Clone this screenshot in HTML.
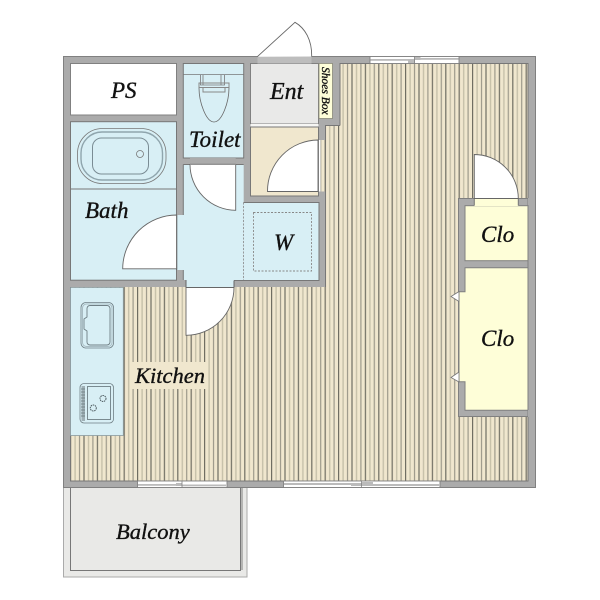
<!DOCTYPE html>
<html><head><meta charset="utf-8"><style>
html,body{margin:0;padding:0;background:#fff}
svg{display:block}
text{font-family:"Liberation Serif",serif;font-style:italic;fill:#111;stroke:#111;stroke-width:.35}
</style></head><body>
<svg width="600" height="600" viewBox="0 0 600 600" xmlns="http://www.w3.org/2000/svg">
<defs><pattern id="st" x="70" y="0" width="13.4" height="10" patternUnits="userSpaceOnUse">
<rect width="13.4" height="10" fill="#f0e7ce"/>
<rect x="0" width="1.2" height="10" fill="#6f6d62"/>
<rect x="4.4" width="1.4" height="10" fill="#c6c0a9"/>
<rect x="8.9" width="1.2" height="10" fill="#9c998a"/>
</pattern></defs>

<!-- balcony -->
<rect x="63.5" y="487.5" width="183.500" height="89.500" fill="#e9e9e7" stroke="#aaa" stroke-width="1"/>
<rect x="70.500" y="487.500" width="170" height="83" fill="none" stroke="#777" stroke-width="1"/>
<rect x="241" y="487" width="2" height="83" fill="#b5b5b3"/>

<!-- walls base + floor -->
<rect x="63.5" y="56.5" width="472" height="431" fill="#ababab" stroke="#808080" stroke-width="1"/>
<rect x="70.5" y="63.5" width="457.5" height="417.5" fill="url(#st)" stroke="#777" stroke-width="1"/>

<!-- wall block upper left -->
<rect x="70" y="63" width="269.5" height="224" fill="#ababab"/>
<rect x="325.7" y="125.5" width="14" height="162" fill="url(#st)"/>
<rect x="339.5" y="63.5" width="1" height="62" fill="#777"/>
<rect x="325" y="125" width="15" height="1" fill="#777"/>
<rect x="325" y="125" width="1" height="162" fill="#777"/>
<rect x="186" y="280" width="48" height="7.5" fill="#d8eff5"/>

<!-- PS -->
<rect x="70.5" y="63.5" width="106" height="51.5" fill="#fff" stroke="#808080"/>
<!-- Bath -->
<rect x="70.5" y="121.7" width="106" height="158.5" fill="#d8eff5" stroke="#777"/>
<line x1="70.5" y1="189" x2="176.5" y2="189" stroke="#777"/>
<rect x="77.5" y="128.5" width="88.5" height="55" rx="25" fill="none" stroke="#777" stroke-width=".8"/>
<rect x="81" y="132" width="81.5" height="48" rx="21" fill="none" stroke="#8fa5ad" stroke-width="1.4"/>
<rect x="92.5" y="138" width="56" height="36" rx="9" fill="none" stroke="#7a8c94" stroke-width="1"/>
<circle cx="140" cy="154" r="3.5" fill="none" stroke="#777" stroke-width=".8"/>
<!-- Toilet -->
<rect x="183.3" y="63.5" width="60.4" height="94.5" fill="#d8eff5" stroke="#777"/>
<rect x="190" y="158" width="45.7" height="6.5" fill="#ababab"/>
<line x1="183.3" y1="74.5" x2="243.7" y2="74.5" stroke="#777" stroke-width=".8"/>
<path d="M200.5 75v10h24V75M203 75v10h18V75" fill="none" stroke="#777" stroke-width=".8"/>
<path d="M199 83h30v4.5h-30zM203 87.500v4.500h22v-4.500" fill="none" stroke="#888" stroke-width="1"/>
<path d="M199 88c0 14 7 34 15 34s15-20 15-34" fill="none" stroke="#666" stroke-width=".8"/>
<!-- Hall -->
<path d="M183.300 164.500H243.700V280.500H234V287H186V280H183.300V270H176.700V215H183.300Z" fill="#d8eff5"/>
<path d="M183.300 164.500H190M235.700 164.500H243.700" stroke="#777" fill="none"/>
<line x1="183.300" y1="164.500" x2="183.300" y2="215" stroke="#777"/>
<line x1="183.300" y1="270" x2="183.300" y2="280" stroke="#777"/>
<!-- W -->
<rect x="243.700" y="202.500" width="75.500" height="78" fill="#d8eff5"/>
<path d="M243.500 202.500H319V280.500H234" fill="none" stroke="#777"/>
<line x1="243.500" y1="202.500" x2="243.500" y2="280" stroke="#888" stroke-width=".8" stroke-dasharray="2 1.500"/>
<rect x="253.500" y="212.500" width="58" height="58.500" fill="none" stroke="#888" stroke-width=".9" stroke-dasharray="2 1.500"/>
<!-- Hall/kitchen wall opening edges -->
<path d="M186 280V287.500H234V280.500" fill="none" stroke="#666"/>
<rect x="70.500" y="287.500" width="52.800" height="148" fill="#d8eff5" stroke="#8a9a9f" stroke-width=".8"/>
<!-- Ent -->
<rect x="250.500" y="63.500" width="68" height="60.500" fill="#e9e9e8" stroke="#808080"/>
<rect x="250.500" y="124" width="68" height="3" fill="#f6f6f4"/>
<rect x="250.500" y="127" width="68" height="69" fill="#f0e7ce" stroke="#777"/>
<rect x="319" y="63.500" width="13.500" height="55" fill="#fefed8" stroke="#8a8a7a" stroke-width=".8"/>
<rect x="257.500" y="56.500" width="54" height="7" fill="#bdbdbd"/>
<!-- Ent door opening in wall -->
<rect x="318.500" y="140" width="7" height="51.500" fill="url(#st)"/>
<rect x="318.500" y="140" width="2" height="51.500" fill="#fff"/>
<line x1="318.500" y1="140" x2="318.500" y2="191.500" stroke="#777" stroke-width=".8"/>
<!-- closets -->
<rect x="458.500" y="198.500" width="69.500" height="218" fill="#ababab" stroke="#808080"/>
<rect x="465" y="205.700" width="63" height="55" fill="#fefed8" stroke="#808080"/>
<path d="M465 267.700H528V410.300H465V381.700H459V291.700H465Z" fill="#fefed8" stroke="#808080"/>
<rect x="528" y="198" width="7" height="219" fill="#ababab"/>
<line x1="528" y1="205" x2="528" y2="410" stroke="#808080"/>
<rect x="474.300" y="198.500" width="44" height="7.500" fill="#fefed8"/>
<line x1="474.300" y1="198.500" x2="518.300" y2="198.500" stroke="#777"/>
<line x1="474.300" y1="198.500" x2="474.300" y2="205.500" stroke="#777"/>
<line x1="518.300" y1="198.500" x2="518.300" y2="205.500" stroke="#777"/>
<path d="M459 291.500L451 296.500L459 301.500ZM459 372L451 377.500L459 382Z" fill="#fff" stroke="#777" stroke-width=".8"/>

<!-- doors -->
<path d="M176.700 215A54 54 0 0 0 122.700 268.800H176.700Z" fill="#fff" stroke="#666" stroke-width=".9"/>
<line x1="176.700" y1="215" x2="176.700" y2="270" stroke="#666" stroke-width="1"/>
<path d="M190 164.500A46 46 0 0 0 235.700 210.300V164.500Z" fill="#fff" stroke="#666" stroke-width=".9"/>
<rect x="190" y="163" width="45.700" height="1.800" fill="#a0a0a0"/>
<path d="M234 287.500A48 48 0 0 1 186 335.300V287.500Z" fill="#fff" stroke="#666" stroke-width=".9"/>
<path d="M318 140A51 51 0 0 0 267.500 191.500H318Z" fill="#fff" stroke="#666" stroke-width=".9"/>
<path d="M474.300 154.500A44 44 0 0 1 518.300 198.500H474.300Z" fill="#fff" stroke="#666" stroke-width=".9"/>
<path d="M257.300 56.700L295 22.300C305 28 312 40 311.700 56.500" fill="#fff" stroke="#666" stroke-width=".9"/>

<!-- windows -->
<g>
<rect x="370" y="56.500" width="89" height="7" fill="#fff" stroke="#808080" stroke-width=".9"/>
<rect x="370.500" y="59" width="44" height="1.800" fill="#bbb"/><rect x="408" y="60" width="7" height="3" fill="#bbb"/>
<rect x="414.500" y="58" width="44" height="1.800" fill="#bbb"/><rect x="414.500" y="57" width="6" height="3" fill="#bbb"/>
<line x1="414.500" y1="56.500" x2="414.500" y2="63.500" stroke="#808080" stroke-width=".8"/>
<rect x="137.500" y="481" width="89.500" height="6.500" fill="#fff" stroke="#808080" stroke-width=".9"/>
<rect x="138" y="484" width="44" height="1.800" fill="#bbb"/><rect x="176" y="483" width="6" height="3" fill="#bbb"/>
<rect x="182" y="484.500" width="44" height="1.800" fill="#bbb"/>
<line x1="182" y1="481" x2="182" y2="487.500" stroke="#808080" stroke-width=".8"/>
<rect x="283.500" y="481" width="156.500" height="6.500" fill="#fff" stroke="#808080" stroke-width=".9"/>
<rect x="284" y="483" width="78" height="2" fill="#bbb"/><rect x="351" y="483" width="11" height="3" fill="#bbb"/>
<rect x="362" y="484" width="78" height="2" fill="#bbb"/><rect x="362" y="482" width="11" height="3" fill="#bbb"/>
<line x1="361.500" y1="481" x2="361.500" y2="487.500" stroke="#808080" stroke-width=".8"/>
</g>

<!-- sink -->
<rect x="81" y="302.500" width="32.500" height="45.500" rx="5" fill="none" stroke="#6f7f85" stroke-width=".8"/>
<rect x="82.500" y="304" width="29.500" height="42.500" rx="4" fill="none" stroke="#a8bcc3" stroke-width="1"/>
<path d="M90 305.500H107a3 3 0 0 1 3 3V342a3 3 0 0 1-3 3H90a3 3 0 0 1-3-3V331l-3-2V319l3-2V308.500a3 3 0 0 1 3-3Z" fill="none" stroke="#6f7f85" stroke-width=".9"/>
<!-- stove -->
<rect x="80" y="383.500" width="33.500" height="39.500" rx="4" fill="none" stroke="#6f7f85" stroke-width=".8"/>
<rect x="81.500" y="386" width="3.500" height="35" fill="#9fb0b6"/>
<path d="M81 389h4M81 392h4M81 395h4M81 398h4M81 401h4M81 404h4M81 407h4M81 410h4M81 413h4M81 416h4" stroke="#66757a" stroke-width=".7"/>
<rect x="87.500" y="386.500" width="23" height="33" fill="none" stroke="#6f7f85" stroke-width=".9"/>
<circle cx="103" cy="398.500" r="3" fill="none" stroke="#4f5d62" stroke-width="1" stroke-dasharray="1.500 .7"/>
<circle cx="93.300" cy="408" r="3" fill="none" stroke="#4f5d62" stroke-width="1" stroke-dasharray="1.500 .7"/>

<!-- labels -->
<rect x="131" y="362" width="77" height="27" fill="#f0e7ce"/>
<text x="111" y="98" font-size="23">PS</text>
<text x="189" y="147" font-size="23">Toilet</text>
<text x="270" y="99" font-size="24">Ent</text>
<text x="85" y="218" font-size="23">Bath</text>
<text x="274" y="250" font-size="23">W</text>
<text x="135" y="383" font-size="22.500">Kitchen</text>
<text x="481" y="242" font-size="23">Clo</text>
<text x="481" y="346" font-size="23">Clo</text>
<text x="116" y="539" font-size="22.500">Balcony</text>
<text transform="translate(322,67) rotate(90)" font-size="11.500">Shoes Box</text>
</svg>
</body></html>
